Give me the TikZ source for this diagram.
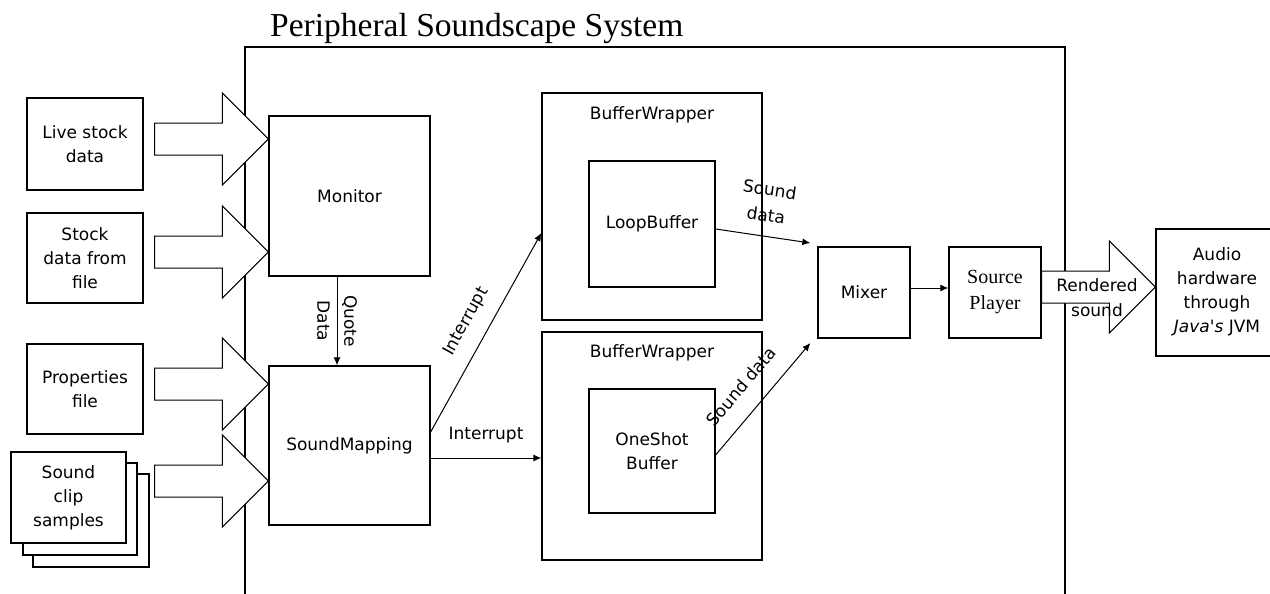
\documentclass[tikz,border=0pt]{standalone}
\usepackage{fontspec}
\newfontfamily\lblfont{DejaVu Sans}
\newfontfamily\serfont{Liberation Serif}
\usetikzlibrary{arrows.meta,calc}
\tikzset{
  box/.style={draw, line width=1.3pt, fill=white, inner sep=0pt},
  lbl/.style={font=\lblfont\fontsize{17}{24}\selectfont, align=center, inner sep=2pt},
  conn/.style={line width=1pt, -{Latex[length=8pt,width=7pt]}},
  fat/.style={draw, line width=1pt, fill=white, line join=miter},
}
\newcommand\fatarrow[2]{%
  \draw[fat] let \p1=#1, \p2=#2 in
    (\x1,\y2+16pt) -- (\x2-46pt,\y2+16pt) -- (\x2-46pt,\y2+46pt) -- (\x2,\y2)
    -- (\x2-46pt,\y2-46pt) -- (\x2-46pt,\y2-16pt) -- (\x1,\y2-16pt) -- cycle;}
\begin{document}
\begin{tikzpicture}[x=1pt,y=-1pt]
\useasboundingbox (0,0) rectangle (1270,594);
% title and system frame
\node[font=\serfont\fontsize{33.5}{40}\selectfont, anchor=base west, inner sep=0pt] (title) at (270,37) {Peripheral Soundscape System};
\node[box, fill=none, minimum width=820pt, minimum height=580pt] (sys) at (655,337) {};
% inputs
\node[box, lbl, minimum width=116pt, minimum height=92pt] (live) at (85,144) {Live stock\\data};
\node[box, lbl, minimum width=116pt, minimum height=90pt] (file) at (85,258) {Stock\\data from\\file};
\node[box, lbl, minimum width=116pt, minimum height=90pt] (props) at (85,389) {Properties\\file};
\node[box, minimum width=116pt, minimum height=93pt] (clipc) at (91,520.5) {};
\node[box, minimum width=114pt, minimum height=92pt] (clipb) at (80,509) {};
\node[box, lbl, minimum width=115pt, minimum height=91pt] (clipa) at (68.5,497.5) {Sound\\clip\\samples};
% core
\node[box, lbl, minimum width=161pt, minimum height=160pt] (monitor) at (349.5,196) {Monitor};
\node[box, lbl, minimum width=161pt, minimum height=159pt] (mapping) at (349.5,445.5) {SoundMapping};
\node[box, minimum width=220pt, minimum height=227pt] (bw1) at (652,206.5) {};
\node[lbl, anchor=center] (bw1t) at (652,115) {BufferWrapper};
\node[box, lbl, minimum width=126pt, minimum height=126pt] (loop) at (652,224) {LoopBuffer};
\node[box, minimum width=220pt, minimum height=228pt] (bw2) at (652,446) {};
\node[lbl, anchor=center] (bw2t) at (652,353) {BufferWrapper};
\node[box, lbl, minimum width=126pt, minimum height=124pt] (oneshot) at (652,451) {OneShot\\Buffer};
\node[box, lbl, minimum width=92pt, minimum height=91pt] (mixer) at (864,292.5) {Mixer};
\node[box, align=center, font=\serfont\fontsize{20}{26}\selectfont, minimum width=92pt, minimum height=91pt] (source) at (995,292.5) {Source\\Player};
\node[box, minimum width=134pt, minimum height=127pt] (audio) at (1223,292.5) {};
\node[lbl] (audiot) at (1217,291.5) {Audio\\hardware\\through\\\textit{Java's} JVM};
% fat arrows
\fatarrow{([xshift=11pt]live.east)}{([yshift=57pt]monitor.west)}
\fatarrow{([xshift=11pt]file.east)}{([yshift=-56pt]monitor.west)}
\fatarrow{([xshift=11pt]props.east)}{([yshift=61.5pt]mapping.west)}
\fatarrow{([xshift=5pt]clipc.east)}{([yshift=-35.5pt]mapping.west)}
\fatarrow{(source.east)}{([yshift=5.5pt]audio.west)}
\node[lbl, font=\lblfont\fontsize{17}{25}\selectfont] (rs) at (1097,297.5) {Rendered\\sound};
% connectors
\draw[conn] ([xshift=-12.5pt]monitor.south) -- node[lbl, font=\lblfont\fontsize{17}{27}\selectfont, rotate=-90] {Quote\\Data} ([xshift=-12.5pt]mapping.north);
\draw[conn] ([yshift=13.5pt]mapping.east) -- node[lbl, sloped, above=12pt, pos=0.5] {Interrupt} ([yshift=-26.5pt]bw1.west);
\coordinate (ilow) at ([yshift=-12.5pt]mapping.east);
\draw[conn] (ilow) -- node[lbl, above=12pt] {Interrupt} (ilow -| bw2.west);
\draw[conn] ([yshift=-5pt]loop.east) -- node[lbl, sloped, above=12pt, font=\lblfont\fontsize{17}{26}\selectfont] {Sound\\data} ([xshift=-7pt,yshift=49.5pt]mixer.west);
\draw[conn] ([yshift=-4pt]oneshot.east) -- node[lbl, sloped, above=16pt, pos=0.47] {Sound data} ([xshift=-7pt,yshift=-50.5pt]mixer.west);
\draw[conn] ([yshift=4.5pt]mixer.east) -- ([yshift=4.5pt]source.west);
\end{tikzpicture}
\end{document}
